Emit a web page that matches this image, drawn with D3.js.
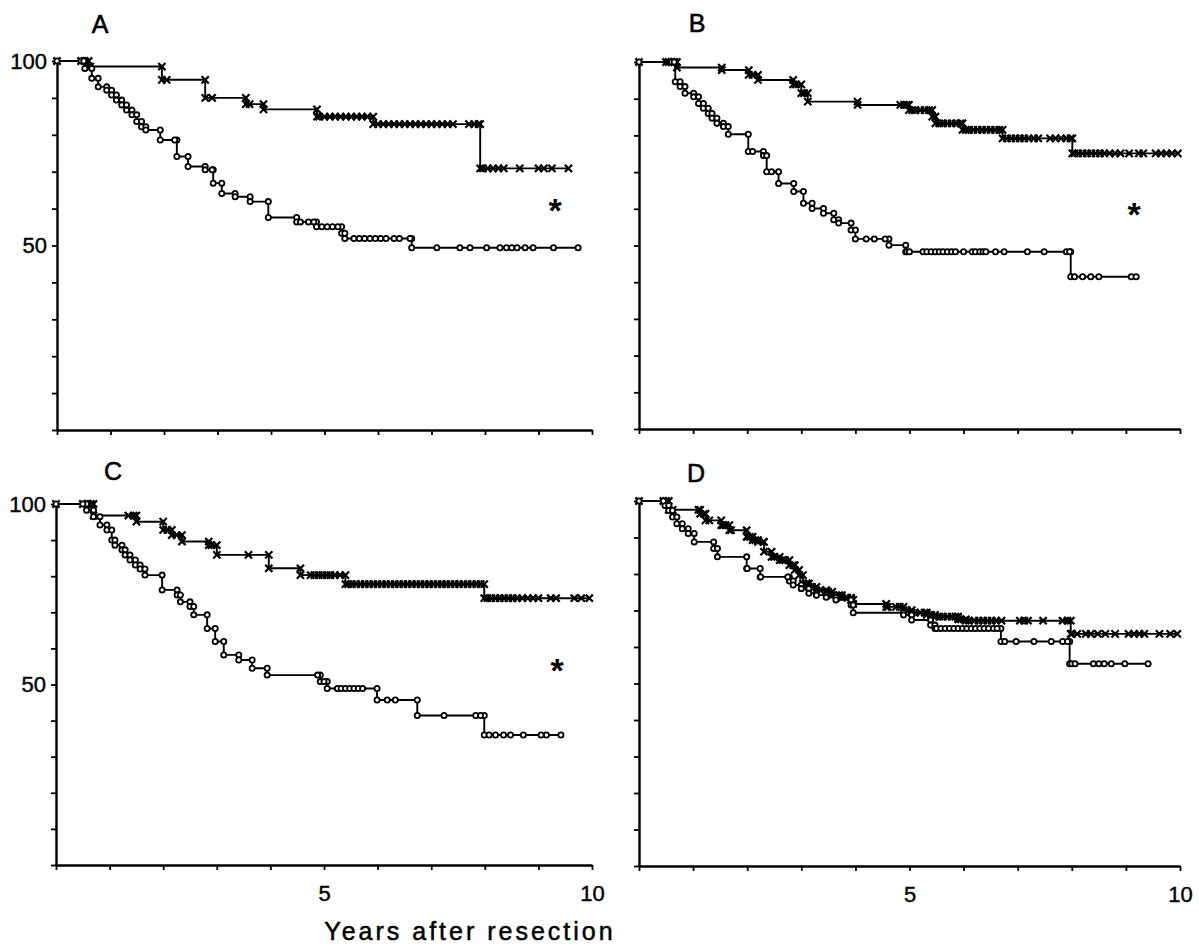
<!DOCTYPE html>
<html><head><meta charset="utf-8">
<script src="https://cdn.jsdelivr.net/npm/d3@7/dist/d3.min.js"></script>
<style>
html,body{margin:0;padding:0;background:#fff;}
svg{display:block;}
</style></head>
<body>
<svg id="chart" width="1199" height="949"></svg>
<script>
// ---------------- DATA ----------------
const panelNames = ["A", "B", "C", "D"];
const xTickValues = [0,1,2,3,4,5,6,7,8,9,10];
const xTickLabels = {5: "5", 10: "10"};
const yTickValues = [0,10,20,30,40,50,60,70,80,90,100];
const yTickLabels = {50: "50", 100: "100"};
const xAxisTitle = "Years after resection";
const significanceMark = "*";

// Panel A
const aUpperSteps = [[0.59,98.5],[1.96,94.9],[2.77,90.0],[3.53,88.3],[3.86,86.9],[4.86,84.9],[5.91,82.9],[7.91,70.9]];
const aUpperCensored = [0.45,0.52,0.62,2.05,2.9,3.6,4.9,5.0,5.1,5.2,5.3,5.4,5.5,5.6,5.7,5.8,6.0,6.1,6.2,6.3,6.4,6.5,6.6,6.7,6.8,6.9,7.0,7.1,7.2,7.3,7.4,7.7,7.8,7.88,7.96,8.05,8.15,8.25,8.35,8.65,9.0,9.1,9.25,9.56];
const aLowerSteps = [[0.52,98.0],[0.65,95.3],[0.77,93.0],[0.93,92.1],[1.02,90.8],[1.11,89.4],[1.21,88.1],[1.30,86.7],[1.40,85.4],[1.49,83.6],[1.58,82.2],[1.66,81.3],[1.93,78.6],[2.24,74.1],[2.45,71.4],[2.77,70.5],[2.92,66.9],[3.08,64.1],[3.33,63.2],[3.61,61.9],[3.95,57.6],[4.48,56.4],[4.85,55.1],[5.32,53.3],[5.38,51.9],[6.63,49.4]];
const aLowerCensored = [0.45,0.5,2.2,2.9,4.55,4.7,4.8,4.95,5.05,5.15,5.25,5.55,5.65,5.75,5.85,5.95,6.05,6.15,6.3,6.4,6.6,7.1,7.53,7.72,8.03,8.28,8.4,8.5,8.6,8.75,8.9,9.28,9.74];

// Panel B
const bUpperSteps = [[0.70,98.5],[1.53,97.8],[2.03,96.5],[2.2,95.1],[2.85,93.9],[3.0,91.5],[3.12,89.2],[4.04,88.3],[4.99,86.9],[5.42,85.1],[5.48,83.3],[5.98,81.5],[6.72,79.2],[8.01,75.1]];
const bUpperCensored = [0.5,0.55,0.6,0.65,2.1,2.9,3.05,4.83,4.9,4.95,5.05,5.11,5.2,5.28,5.36,5.55,5.62,5.7,5.78,5.86,5.94,6.04,6.1,6.18,6.26,6.34,6.42,6.5,6.58,6.66,6.8,6.88,6.96,7.04,7.12,7.2,7.3,7.38,7.6,7.7,7.8,7.9,7.98,8.05,8.12,8.2,8.28,8.36,8.44,8.52,8.6,8.7,8.8,8.9,9.06,9.24,9.32,9.55,9.65,9.75,9.85,9.96];
const bLowerSteps = [[0.67,94.6],[0.76,93.3],[0.85,91.5],[1.01,90.5],[1.10,88.7],[1.19,87.4],[1.28,86.0],[1.35,84.7],[1.44,83.3],[1.56,82.4],[1.65,80.3],[2.02,75.6],[2.30,74.5],[2.36,70.1],[2.58,66.9],[2.86,64.7],[3.04,61.5],[3.20,60.1],[3.41,58.8],[3.60,57.0],[3.69,56.1],[3.92,54.2],[4.0,51.8],[4.62,50.1],[4.93,48.3],[7.98,41.5]];
const bLowerCensored = [0.6,0.65,2.1,2.45,4.2,4.35,4.55,4.95,5.0,5.25,5.32,5.4,5.48,5.55,5.62,5.7,5.78,5.85,6.0,6.16,6.22,6.3,6.36,6.41,6.59,6.75,7.18,7.49,7.9,7.96,8.05,8.2,8.35,8.5,9.1,9.19];

// Panel C
const cUpperSteps = [[0.70,96.8],[1.5,95.1],[2.0,92.8],[2.16,91.4],[2.35,89.6],[2.85,88.6],[3.0,85.9],[3.97,82.2],[4.56,80.3],[5.40,77.8],[7.99,73.9]];
const cUpperCensored = [0.5,0.58,0.65,1.35,1.45,2.08,2.25,2.9,3.59,4.75,4.82,4.9,4.97,5.05,5.12,5.2,5.3,5.45,5.52,5.6,5.68,5.76,5.84,5.92,6.0,6.08,6.16,6.24,6.32,6.4,6.48,6.56,6.64,6.72,6.8,6.88,6.96,7.04,7.12,7.2,7.28,7.36,7.44,7.52,7.6,7.68,7.76,7.84,7.92,8.05,8.12,8.2,8.28,8.36,8.44,8.52,8.6,8.7,8.8,8.9,9.0,9.23,9.33,9.67,9.8,9.95];
const cLowerSteps = [[0.57,98.3],[0.70,96.5],[0.82,94.2],[0.95,92.8],[1.04,90.0],[1.10,88.6],[1.23,87.3],[1.29,85.9],[1.38,84.5],[1.48,83.1],[1.57,82.0],[1.66,80.3],[1.98,76.2],[2.26,74.8],[2.32,72.9],[2.50,71.6],[2.57,69.3],[2.82,65.5],[2.97,61.9],[3.13,58.2],[3.41,56.8],[3.66,54.5],[3.94,52.6],[4.93,50.8],[5.06,48.9],[5.99,45.7],[6.74,41.4],[7.99,36.0]];
const cLowerCensored = [0.5,4.88,5.0,5.25,5.32,5.4,5.48,5.56,5.64,5.72,6.18,6.33,7.24,7.83,7.92,8.08,8.2,8.35,8.48,8.72,9.05,9.15,9.42];

// Panel D
const dUpperSteps = [[0.55,97.6],[1.13,96.5],[1.23,94.7],[1.52,93.4],[1.67,92.0],[1.99,90.2],[2.10,89.3],[2.2,88.8],[2.31,86.1],[2.45,84.7],[2.60,83.8],[2.78,82.4],[2.88,81.1],[2.96,79.7],[3.03,77.4],[3.14,76.5],[3.28,75.6],[3.46,75.1],[3.57,74.2],[3.75,73.5],[3.92,72.9],[3.96,71.8],[4.57,71.0],[4.89,70.1],[5.04,69.4],[5.32,68.8],[5.47,68.3],[5.90,67.6],[6.04,67.2],[7.98,63.6]];
const dUpperCensored = [0.45,0.5,0.62,1.1,1.2,1.3,1.55,1.6,1.7,2.0,2.05,2.15,2.3,2.5,2.65,2.7,2.85,3.1,3.2,3.35,3.5,3.7,3.85,4.6,4.75,4.82,4.95,5.1,5.2,5.28,5.4,5.55,5.62,5.7,5.78,5.85,5.95,6.1,6.2,6.28,6.36,6.44,6.52,6.6,6.7,7.04,7.12,7.19,7.47,7.83,7.92,8.0,8.1,8.26,8.35,8.48,8.62,8.8,9.05,9.15,9.25,9.34,9.62,9.82,9.95];
const dLowerSteps = [[0.48,98.8],[0.55,97.4],[0.62,95.6],[0.70,93.8],[0.80,92.4],[0.91,91.1],[1.02,88.8],[1.38,87.0],[1.45,84.7],[1.99,81.5],[2.24,79.2],[2.78,78.1],[2.85,77.0],[3.0,76.0],[3.14,74.7],[3.28,74.2],[3.46,73.6],[3.64,72.9],[3.92,71.5],[3.96,69.4],[4.89,68.8],[5.04,67.4],[5.39,66.0],[5.47,65.1],[6.69,61.5],[7.96,55.4]];
const dLowerCensored = [0.45,2.0,2.25,2.75,3.0,5.5,5.58,5.66,5.74,5.82,5.9,5.98,6.06,6.14,6.22,6.3,6.38,6.46,6.55,6.62,6.76,6.97,7.3,7.62,7.83,7.92,8.0,8.06,8.4,8.5,8.6,8.73,8.98,9.41];

// ---------------- LAYOUT ----------------
const svg = d3.select("#chart");
const fontNarrow = "'Liberation Sans Narrow','Arial Narrow','Liberation Sans',Arial,sans-serif";
const fontSans = "'Liberation Sans',Arial,Helvetica,sans-serif";

const panels = [
  {name: panelNames[0], x0: 57, x1: 592, yTop: 61, yBot: 430, yLabels: true, xLabels: false,
   upper: {steps: aUpperSteps, cens: aUpperCensored}, lower: {steps: aLowerSteps, cens: aLowerCensored},
   letter: [100, 33], star: [555, 222]},
  {name: panelNames[1], x0: 639, x1: 1180, yTop: 62, yBot: 429, yLabels: false, xLabels: false,
   upper: {steps: bUpperSteps, cens: bUpperCensored}, lower: {steps: bLowerSteps, cens: bLowerCensored},
   letter: [697, 32], star: [1134, 226]},
  {name: panelNames[2], x0: 56, x1: 592, yTop: 504, yBot: 865, yLabels: true, xLabels: true,
   upper: {steps: cUpperSteps, cens: cUpperCensored}, lower: {steps: cLowerSteps, cens: cLowerCensored},
   letter: [113, 480], star: [557, 682]},
  {name: panelNames[3], x0: 639, x1: 1180, yTop: 501, yBot: 866, yLabels: false, xLabels: true,
   upper: {steps: dUpperSteps, cens: dUpperCensored}, lower: {steps: dLowerSteps, cens: dLowerCensored},
   letter: [696, 482], star: null}
];

function survivalAt(steps, t) {
  let s = 100;
  for (const [st, sv] of steps) { if (st <= t) s = sv; else break; }
  return s;
}

panels.forEach(p => {
  const g = svg.append("g");
  const x = d3.scaleLinear().domain([0, 10]).range([p.x0, p.x1]);
  const y = d3.scaleLinear().domain([0, 100]).range([p.yBot, p.yTop]);

  // axes
  const yAxis = d3.axisLeft(y).tickValues(yTickValues).tickSize(5).tickSizeOuter(0)
    .tickFormat(d => p.yLabels ? (yTickLabels[d] || "") : "");
  const gy = g.append("g").attr("transform", `translate(${p.x0},0)`).call(yAxis);
  const xAxis = d3.axisBottom(x).tickValues(xTickValues).tickSize(5).tickSizeOuter(0)
    .tickFormat(d => p.xLabels ? (xTickLabels[d] || "") : "");
  const gx = g.append("g").attr("transform", `translate(0,${p.yBot})`).call(xAxis);
  [gx, gy].forEach(ax => {
    ax.select(".domain").attr("stroke", "#000").attr("stroke-width", 2.4);
    ax.selectAll(".tick line").attr("stroke", "#000").attr("stroke-width", 1.8);
    ax.selectAll(".tick text").attr("fill", "#000").attr("stroke", "#000").attr("stroke-width", 0.4)
      .style("font-family", fontNarrow).style("font-size", "22px");
  });
  gy.selectAll(".tick text").attr("x", -10);
  gx.selectAll(".tick text").attr("y", 20);

  // curves
  const line = d3.line().curve(d3.curveStepAfter).x(d => x(d[0])).y(d => y(d[1]));
  [["upper", "x"], ["lower", "o"]].forEach(([key, sym]) => {
    const c = p[key];
    const end = d3.max(c.cens.concat(c.steps.map(d => d[0])));
    const pts = [[0, 100]].concat(c.steps, [[end, c.steps[c.steps.length - 1][1]]]);
    g.append("path").attr("d", line(pts)).attr("fill", "none")
      .attr("stroke", "#000").attr("stroke-width", 1.9);

    // marker positions: origin, both corners of each step, censored times
    const marks = [[0, 100]];
    let prev = 100;
    c.steps.forEach(([t, s]) => { marks.push([t, prev]); marks.push([t, s]); prev = s; });
    c.cens.forEach(t => marks.push([t, survivalAt(c.steps, t)]));

    if (sym === "x") {
      const r = 3.6;
      g.append("g").selectAll("path").data(marks).join("path")
        .attr("d", d => {
          const cx = x(d[0]), cy = y(d[1]);
          return `M${cx - r},${cy - r}L${cx + r},${cy + r}M${cx - r},${cy + r}L${cx + r},${cy - r}`;
        })
        .attr("stroke", "#000").attr("stroke-width", 2.2).attr("fill", "none");
    } else {
      g.append("g").selectAll("circle").data(marks).join("circle")
        .attr("cx", d => x(d[0])).attr("cy", d => y(d[1])).attr("r", 2.6)
        .attr("fill", "#fff").attr("stroke", "#000").attr("stroke-width", 1.8);
    }
  });

  // panel letter
  g.append("text").attr("x", p.letter[0]).attr("y", p.letter[1])
    .attr("text-anchor", "middle").style("font-family", fontSans).style("font-size", "25px")
    .attr("fill", "#000").attr("stroke", "#000").attr("stroke-width", 0.6).text(p.name);

  if (p.star) {
    g.append("text").attr("x", p.star[0]).attr("y", p.star[1])
      .attr("text-anchor", "middle").style("font-family", fontSans).style("font-size", "34px")
      .style("font-weight", "bold").attr("fill", "#000").text(significanceMark);
  }
});

svg.append("text").attr("x", 470).attr("y", 940).attr("text-anchor", "middle")
  .style("font-family", fontSans).style("font-size", "25px").style("letter-spacing", "3px")
  .attr("fill", "#000").attr("stroke", "#000").attr("stroke-width", 0.5).text(xAxisTitle);
</script>
</body></html>
